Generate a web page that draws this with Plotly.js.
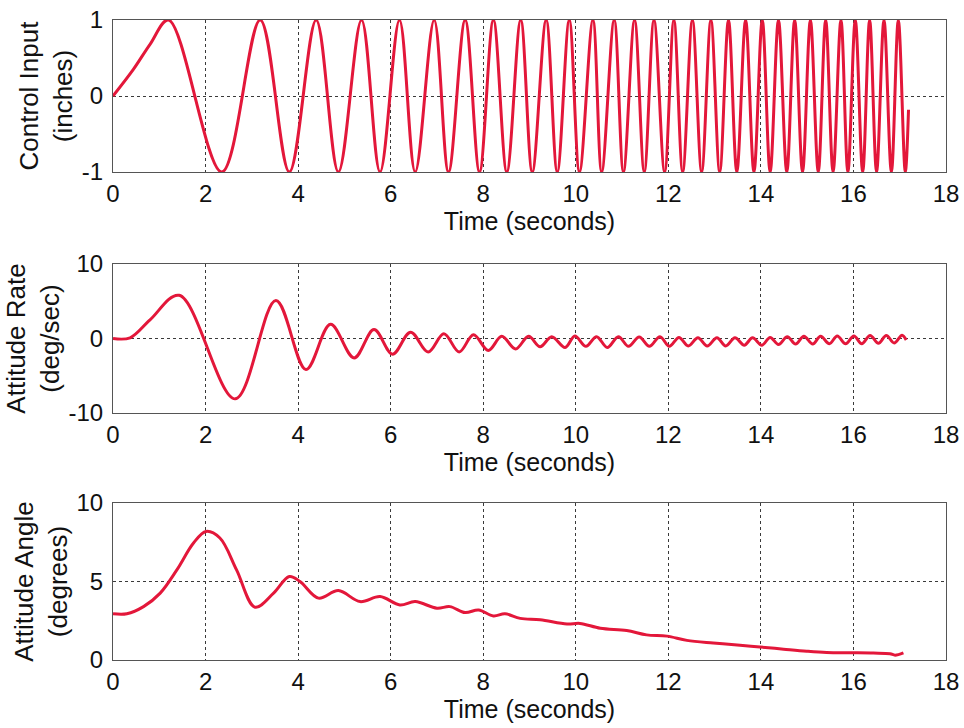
<!DOCTYPE html>
<html>
<head>
<meta charset="utf-8">
<script src="https://cdn.plot.ly/plotly-3.0.1.min.js"></script>
<style>
  html, body { margin: 0; padding: 0; background: #ffffff; }
  #chart { width: 964px; height: 728px; }
</style>
</head>
<body>
<div id="chart"></div>
<script>
// ---- Data ----
// Control input (inches): read extrema and early points
const ctrlTime = [0, 0.44, 0.80, 1.20, 2.35, 3.18, 3.81, 4.39, 4.87, 5.37, 5.77, 6.19, 6.53, 6.94, 7.25, 7.61, 7.92, 8.22, 8.51, 8.81, 9.06, 9.36, 9.60, 9.86, 10.08, 10.37, 10.56, 10.83, 11.03, 11.27, 11.48, 11.69, 11.92, 12.12, 12.31, 12.52, 12.72, 12.92, 13.11, 13.30, 13.48, 13.67, 13.85, 14.03, 14.20, 14.38, 14.56, 14.73, 14.90, 15.07, 15.24, 15.40, 15.56, 15.73, 15.88, 16.04, 16.20, 16.35, 16.50, 16.66, 16.82, 16.97, 17.12, 17.19];
const ctrlValue = [0, 0.35, 0.68, 1, -1, 1, -1, 1, -1, 1, -1, 1, -1, 1, -1, 1, -1, 1, -1, 1, -1, 1, -1, 1, -1, 1, -1, 1, -1, 1, -1, 1, -1, 1, -1, 1, -1, 1, -1, 1, -1, 1, -1, 1, -1, 1, -1, 1, -1, 1, -1, 1, -1, 1, -1, 1, -1, 1, -1, 1, -1, 1, -1, -0.18];

// Attitude rate (deg/sec)
const rateTime = [0, 0.37, 0.80, 1.43, 2.64, 3.52, 4.17, 4.70, 5.21, 5.64, 6.04, 6.43, 6.81, 7.15, 7.48, 7.79, 8.11, 8.40, 8.70, 8.98, 9.23, 9.48, 9.77, 9.98, 10.22, 10.45, 10.68, 10.92, 11.14, 11.37, 11.59, 11.82, 12.02, 12.23, 12.43, 12.64, 12.84, 13.05, 13.24, 13.44, 13.64, 13.82, 14.02, 14.20, 14.38, 14.57, 14.75, 14.93, 15.12, 15.29, 15.48, 15.65, 15.83, 16.01, 16.18, 16.36, 16.54, 16.71, 16.88, 17.05, 17.14];
const rateValue = [0, 0.1, 2.5, 5.8, -8.1, 5.1, -4.15, 1.9, -2.6, 1.2, -2.1, 0.85, -1.8, 0.65, -1.8, 0.5, -1.6, 0.3, -1.4, 0.3, -1.1, 0.25, -1.2, 0.35, -1.05, 0.25, -1.2, 0.25, -1.05, 0.2, -1.05, 0.25, -1.05, 0.15, -1.0, 0.1, -1.0, 0.1, -1.0, 0.1, -0.9, 0.1, -0.9, 0.15, -0.8, 0.25, -0.75, 0.3, -0.75, 0.3, -0.7, 0.35, -0.7, 0.35, -0.7, 0.4, -0.65, 0.4, -0.6, 0.45, -0.2];

// Attitude angle (degrees)
const angleTime = [0, 0.30, 0.66, 1.02, 1.38, 1.74, 2.01, 2.31, 2.67, 3.07, 3.47, 3.81, 4.04, 4.44, 4.87, 5.34, 5.77, 6.20, 6.53, 7.00, 7.28, 7.61, 7.90, 8.22, 8.47, 8.80, 9.23, 9.81, 10.09, 10.53, 11.10, 11.53, 11.97, 12.40, 12.97, 13.55, 13.98, 14.49, 14.99, 15.42, 15.93, 16.43, 16.79, 16.90, 17.08];
const angleValue = [2.95, 2.95, 3.4, 4.26, 5.74, 7.45, 8.19, 7.77, 5.74, 3.36, 4.26, 5.32, 5.0, 3.94, 4.42, 3.72, 4.04, 3.51, 3.72, 3.3, 3.40, 3.02, 3.19, 2.81, 2.94, 2.65, 2.56, 2.29, 2.33, 2.02, 1.88, 1.6, 1.52, 1.25, 1.08, 0.94, 0.83, 0.69, 0.56, 0.48, 0.46, 0.44, 0.40, 0.31, 0.46];

const xTickLabels = ['0', '2', '4', '6', '8', '10', '12', '14', '16', '18'];
const xTickVals = [0, 2, 4, 6, 8, 10, 12, 14, 16, 18];
const yTitles = ['Control Input<br>(inches)', 'Attitude Rate<br>(deg/sec)', 'Attitude Angle<br>(degrees)'];
const xTitle = 'Time (seconds)';

// ---- Styling ----
const red = '#e3173a';
const FONT = '"Liberation Sans", Arial, Helvetica, sans-serif';

function lineTrace(x, y, xa, ya) {
  return {
    x: x, y: y, xaxis: xa, yaxis: ya, type: 'scatter', mode: 'lines',
    line: { color: red, width: 3, shape: 'spline', smoothing: 1 },
    hoverinfo: 'skip', showlegend: false
  };
}

function xAxis(anchor) {
  return {
    anchor: anchor, domain: [0, 1], range: [0, 18],
    tickmode: 'array', tickvals: xTickVals, ticktext: xTickLabels,
    showgrid: true, gridcolor: '#3a3a3a', gridwidth: 1, griddash: '3px,3px',
    showline: true, mirror: true, linecolor: '#555', linewidth: 1,
    zeroline: false, ticks: '', automargin: false,
    tickfont: { size: 24, color: '#111', family: FONT },
    title: { text: xTitle, font: { size: 25, color: '#111', family: FONT }, standoff: 2 }
  };
}

function yAxis(anchor, domain, range, vals, title) {
  return {
    anchor: anchor, domain: domain, range: range,
    tickmode: 'array', tickvals: vals, ticktext: vals.map(String),
    showgrid: true, gridcolor: '#3a3a3a', gridwidth: 1, griddash: '3px,3px',
    showline: true, mirror: true, linecolor: '#555', linewidth: 1,
    zeroline: false, ticks: '', automargin: false, ticklabelstandoff: 4,
    tickfont: { size: 24, color: '#111', family: FONT },
    title: { text: title, font: { size: 26, color: '#111', family: FONT }, standoff: 1 }
  };
}

const data = [
  lineTrace(ctrlTime, ctrlValue, 'x', 'y'),
  lineTrace(rateTime, rateValue, 'x2', 'y2'),
  lineTrace(angleTime, angleValue, 'x3', 'y3')
];

const layout = {
  width: 964, height: 728,
  margin: { l: 113, r: 18, t: 20, b: 68 },
  paper_bgcolor: '#ffffff', plot_bgcolor: '#ffffff',
  font: { family: FONT, color: '#111' },
  showlegend: false,
  xaxis: xAxis('y'),
  xaxis2: xAxis('y2'),
  xaxis3: xAxis('y3'),
  yaxis: yAxis('x', [0.7625, 1.0], [-1, 1], [-1, 0, 1], yTitles[0]),
  yaxis2: yAxis('x2', [0.3859, 0.61875], [-10, 10], [-10, 0, 10], yTitles[1]),
  yaxis3: yAxis('x3', [0, 0.2453], [0, 10], [0, 5, 10], yTitles[2])
};

Plotly.newPlot('chart', data, layout, { staticPlot: true, displayModeBar: false });
</script>
</body>
</html>
